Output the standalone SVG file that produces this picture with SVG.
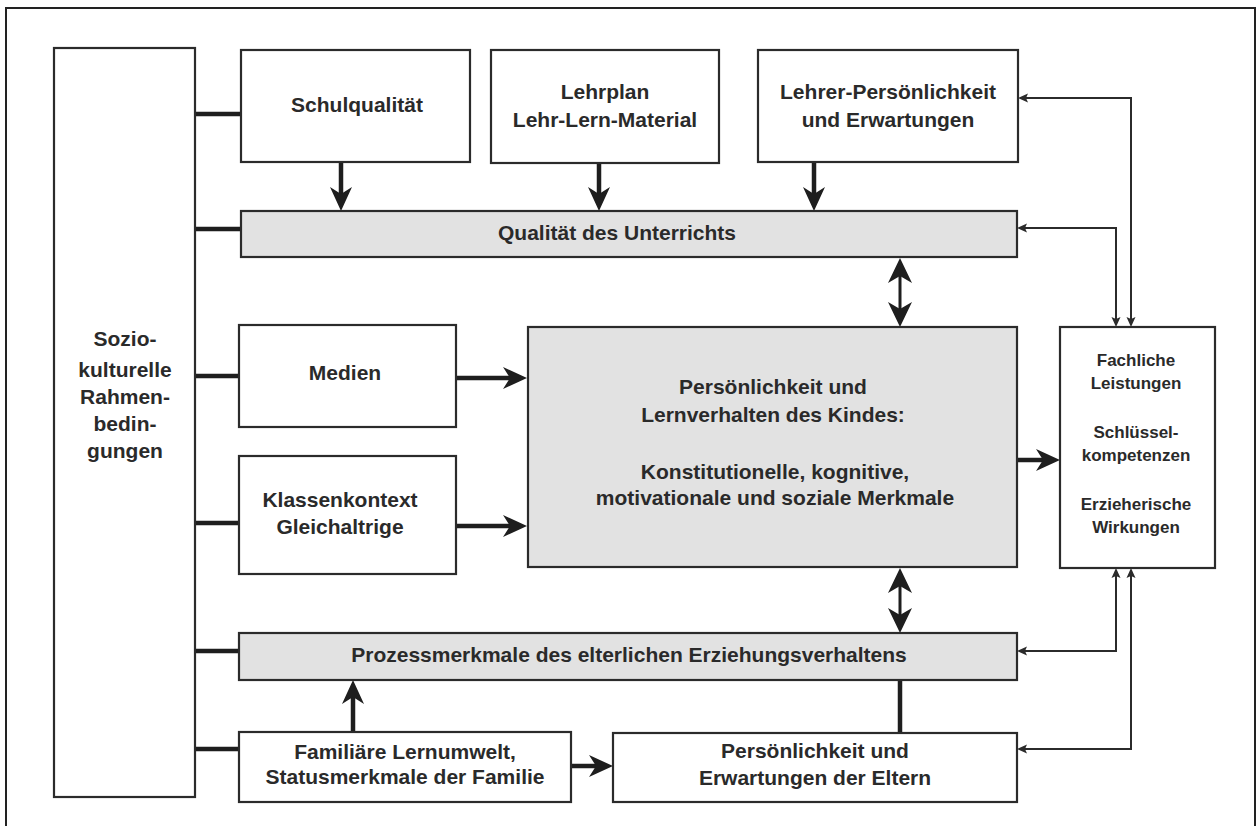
<svg xmlns="http://www.w3.org/2000/svg" width="1258" height="826" viewBox="0 0 1258 826">
<style>
.box{fill:#fff;stroke:#2b2b2b;stroke-width:2.2}
.grey{fill:#e2e2e2;stroke:#2b2b2b;stroke-width:2.2}
.t{font-family:"Liberation Sans",Arial,sans-serif;font-weight:bold;font-size:21px;fill:#2a2a2a;text-anchor:middle}
.s{font-size:17px}
.thick{stroke:#1e1e1e;stroke-width:4.5;fill:none}
.mid{stroke:#1e1e1e;stroke-width:3;fill:none}
.thin{stroke:#2b2b2b;stroke-width:2;fill:none}
</style>
<defs>
<marker id="ah" markerUnits="userSpaceOnUse" orient="auto" refX="0" refY="0" markerWidth="40" markerHeight="40" viewBox="-20 -20 40 40" overflow="visible">
<path d="M12,0 L-12,-11 L-5,0 L-12,11 Z" fill="#1e1e1e"/>
</marker>
<marker id="ad" markerUnits="userSpaceOnUse" orient="auto-start-reverse" refX="0" refY="0" markerWidth="40" markerHeight="40" viewBox="-20 -20 40 40" overflow="visible">
<path d="M12,0 L-13,-12 L-6,0 L-13,12 Z" fill="#1e1e1e"/>
</marker>
<marker id="at" markerUnits="userSpaceOnUse" orient="auto-start-reverse" refX="0" refY="0" markerWidth="20" markerHeight="20" viewBox="-10 -10 20 20" overflow="visible">
<path d="M5,0 L-5,-4.5 L-3,0 L-5,4.5 Z" fill="#2b2b2b"/>
</marker>
</defs>
<rect width="1258" height="826" fill="#fff"/>
<path d="M6,830 V8 H1255 V830" fill="none" stroke="#222" stroke-width="2"/>

<g id="connectors">
<!-- left connectors -->
<line class="thick" x1="195" y1="114" x2="241" y2="114"/>
<line class="thick" x1="195" y1="229" x2="241" y2="229"/>
<line class="thick" x1="195" y1="376" x2="239" y2="376"/>
<line class="thick" x1="195" y1="523" x2="239" y2="523"/>
<line class="thick" x1="195" y1="651" x2="239" y2="651"/>
<line class="thick" x1="195" y1="749" x2="239" y2="749"/>
<!-- down arrows into Qualität -->
<line class="thick" x1="341" y1="162" x2="341" y2="199" marker-end="url(#ah)"/>
<line class="thick" x1="599" y1="163" x2="599" y2="199" marker-end="url(#ah)"/>
<line class="thick" x1="814" y1="162" x2="814" y2="199" marker-end="url(#ah)"/>
<!-- into big box -->
<line class="thick" x1="456" y1="378" x2="515" y2="378" marker-end="url(#ah)"/>
<line class="thick" x1="456" y1="526" x2="515" y2="526" marker-end="url(#ah)"/>
<line class="thick" x1="1017" y1="460" x2="1048" y2="460" marker-end="url(#ah)"/>
<!-- double arrows -->
<line class="mid" x1="900" y1="270" x2="900" y2="315" marker-start="url(#ad)" marker-end="url(#ad)"/>
<line class="mid" x1="900" y1="580" x2="900" y2="621" marker-start="url(#ad)" marker-end="url(#ad)"/>
<!-- family -->
<line class="thick" x1="353" y1="732" x2="353" y2="692" marker-end="url(#ah)"/>
<line class="thick" x1="571" y1="766" x2="601" y2="766" marker-end="url(#ah)"/>
<line class="thick" x1="900" y1="680" x2="900" y2="733"/>
<!-- feedback lines -->
<polyline class="thin" points="1131,322 1131,98 1023,98" marker-start="url(#at)" marker-end="url(#at)"/>
<polyline class="thin" points="1116,322 1116,228 1022,228" marker-start="url(#at)" marker-end="url(#at)"/>
<polyline class="thin" points="1116,573 1116,651 1022,651" marker-start="url(#at)" marker-end="url(#at)"/>
<polyline class="thin" points="1131,573 1131,749 1022,749" marker-start="url(#at)" marker-end="url(#at)"/>
</g>

<g id="sozio">
<rect class="box" x="54" y="48" width="141" height="749"/>
<text class="t" x="125" y="346">Sozio-</text>
<text class="t" x="125" y="377">kulturelle</text>
<text class="t" x="125" y="404">Rahmen-</text>
<text class="t" x="125" y="431">bedin-</text>
<text class="t" x="125" y="458">gungen</text>
</g>
<g id="schulqualitaet">
<rect class="box" x="241" y="50" width="229" height="112"/>
<text class="t" x="357" y="112">Schulqualität</text>
</g>
<g id="lehrplan">
<rect class="box" x="491" y="50" width="228" height="113"/>
<text class="t" x="605" y="99">Lehrplan</text>
<text class="t" x="605" y="127">Lehr-Lern-Material</text>
</g>
<g id="lehrer">
<rect class="box" x="758" y="50" width="260" height="112"/>
<text class="t" x="888" y="99">Lehrer-Persönlichkeit</text>
<text class="t" x="888" y="127">und Erwartungen</text>
</g>
<g id="qualitaet">
<rect class="grey" x="241" y="211" width="776" height="46"/>
<text class="t" x="617" y="240">Qualität des Unterrichts</text>
</g>
<g id="medien">
<rect class="box" x="239" y="325" width="217" height="102"/>
<text class="t" x="345" y="380">Medien</text>
</g>
<g id="klassenkontext">
<rect class="box" x="239" y="456" width="217" height="118"/>
<text class="t" x="340" y="507">Klassenkontext</text>
<text class="t" x="340" y="534">Gleichaltrige</text>
</g>
<g id="kind">
<rect class="grey" x="528" y="327" width="489" height="240"/>
<text class="t" x="773" y="394">Persönlichkeit und</text>
<text class="t" x="773" y="422">Lernverhalten des Kindes:</text>
<text class="t" x="775" y="479">Konstitutionelle, kognitive,</text>
<text class="t" x="775" y="505">motivationale und soziale Merkmale</text>
</g>
<g id="wirkungen">
<rect class="box" x="1060" y="327" width="155" height="241"/>
<text class="t s" x="1136" y="366">Fachliche</text>
<text class="t s" x="1136" y="389">Leistungen</text>
<text class="t s" x="1136" y="438">Schlüssel-</text>
<text class="t s" x="1136" y="461">kompetenzen</text>
<text class="t s" x="1136" y="510">Erzieherische</text>
<text class="t s" x="1136" y="533">Wirkungen</text>
</g>
<g id="prozess">
<rect class="grey" x="239" y="633" width="778" height="47"/>
<text class="t" x="629" y="662">Prozessmerkmale des elterlichen Erziehungsverhaltens</text>
</g>
<g id="familie">
<rect class="box" x="239" y="732" width="332" height="70"/>
<text class="t" x="405" y="759">Familiäre Lernumwelt,</text>
<text class="t" x="405" y="784">Statusmerkmale der Familie</text>
</g>
<g id="eltern">
<rect class="box" x="613" y="733" width="404" height="69"/>
<text class="t" x="815" y="758">Persönlichkeit und</text>
<text class="t" x="815" y="785">Erwartungen der Eltern</text>
</g>
</svg>
